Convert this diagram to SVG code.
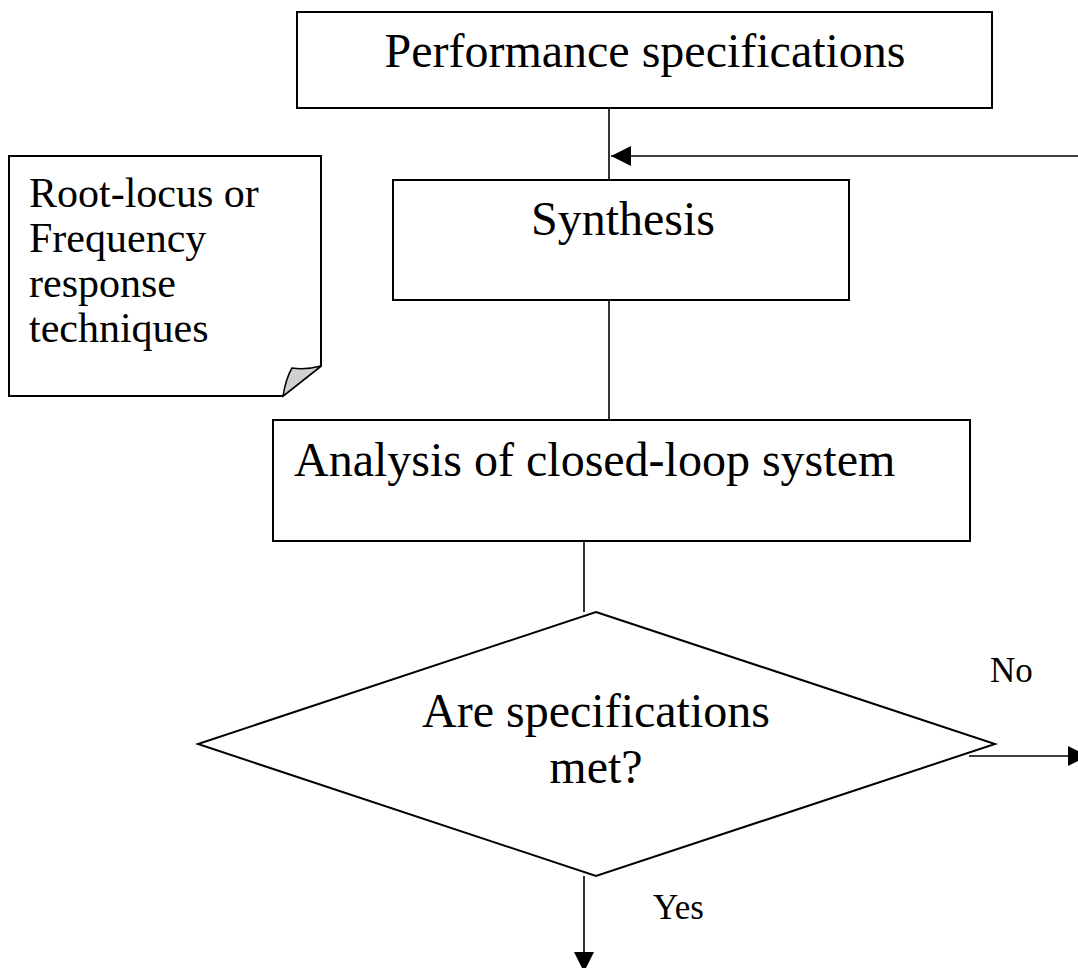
<svg xmlns="http://www.w3.org/2000/svg" width="1078" height="968" viewBox="0 0 1078 968">
<style>
.box{fill:#fff;stroke:#000;stroke-width:2}
.ln{fill:none;stroke:#000;stroke-width:1.6}
.big{font-family:"Liberation Serif","Times New Roman",serif;font-size:48px;fill:#000}
.mid{font-family:"Liberation Serif","Times New Roman",serif;font-size:42px;fill:#000}
.sm{font-family:"Liberation Serif","Times New Roman",serif;font-size:35px;fill:#000}
</style>
<defs>
<marker id="ah" viewBox="0 0 20 20" refX="20" refY="10" markerWidth="20" markerHeight="20" markerUnits="userSpaceOnUse" orient="auto">
<path d="M0,0 L20,10 L0,20 Z" fill="#000"/>
</marker>
</defs>
<rect width="1078" height="968" fill="#fff"/>
<g id="connectors">
<line class="ln" x1="609" y1="108" x2="609" y2="180"/>
<line class="ln" x1="1078" y1="156" x2="611" y2="156" marker-end="url(#ah)"/>
<line class="ln" x1="609" y1="300" x2="609" y2="420"/>
<line class="ln" x1="584" y1="541" x2="584" y2="612"/>
<line class="ln" x1="969" y1="756" x2="1088" y2="756" marker-end="url(#ah)"/>
<line class="ln" x1="584" y1="876" x2="584" y2="972" marker-end="url(#ah)"/>
</g>
<g id="perf">
<rect class="box" x="297" y="12" width="695" height="96"/>
<text class="big" x="645" y="67" text-anchor="middle">Performance specifications</text>
</g>
<g id="note">
<path class="box" d="M9,156 L321,156 L321,366 L283,396 L9,396 Z"/>
<path d="M283,396 Q286,378 292,368 Q306,370 321,366 Z" fill="#d0d0d0" stroke="#000" stroke-width="1.5"/>
<text class="mid" x="29" y="207">Root-locus or</text>
<text class="mid" x="29" y="252">Frequency</text>
<text class="mid" x="29" y="297">response</text>
<text class="mid" x="29" y="342">techniques</text>
</g>
<g id="synthesis">
<rect class="box" x="393" y="180" width="456" height="120"/>
<text class="big" x="623" y="235" text-anchor="middle">Synthesis</text>
</g>
<g id="analysis">
<rect class="box" x="273" y="420" width="697" height="121"/>
<text class="big" x="294" y="476">Analysis of closed-loop system</text>
</g>
<g id="decision">
<polygon class="box" points="596,612 995,744 596,876 198,744"/>
<text class="big" x="596" y="727" text-anchor="middle">Are specifications</text>
<text class="big" x="596" y="783" text-anchor="middle">met?</text>
</g>
<text class="sm" x="990" y="682">No</text>
<text class="sm" x="653" y="919">Yes</text>
</svg>
